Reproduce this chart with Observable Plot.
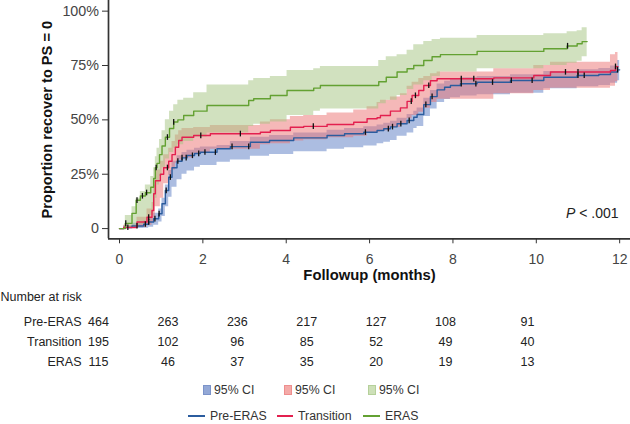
<!DOCTYPE html>
<html><head><meta charset="utf-8">
<script src="https://cdn.jsdelivr.net/npm/d3@7"></script>
<script src="https://cdn.jsdelivr.net/npm/@observablehq/plot@0.6"></script>
<style>
body{margin:0;background:#fff;font-family:"Liberation Sans",Arial,sans-serif;}
#wrap{position:relative;width:630px;height:424px;overflow:hidden;background:#fff}
#wrap svg{display:block}
.leg{position:absolute;height:14px;display:flex;align-items:center;font-size:12.3px;color:#333;white-space:nowrap}
.sw{display:inline-block;width:8px;height:10px;margin-right:3px;box-sizing:border-box;border:1px solid}
.ln{display:inline-block;height:2px;margin-right:5px}
</style></head><body><div id="wrap"></div>
<script>
// ---- data ----
const groups = ["Pre-ERAS", "Transition", "ERAS"];

const preTime = [0,0.1,0.3,0.58,0.7,0.82,0.94,1.02,1.1,1.18,1.26,1.38,1.5,1.62,1.8,1.94,2.34,2.66,3.14,3.6,4.18,4.98,5.4,5.86,6.18,6.34,6.5,6.66,6.9,7.06,7.14,7.3,7.46,7.62,7.8,7.94,8.18,8.58,9.38,10.18,10.98,11.5,11.78,11.95,12.0];
const preEst  = [0,0.005,0.012,0.02,0.03,0.045,0.068,0.114,0.175,0.236,0.28,0.31,0.325,0.336,0.345,0.351,0.367,0.377,0.397,0.405,0.417,0.428,0.436,0.443,0.451,0.459,0.468,0.482,0.497,0.512,0.525,0.57,0.607,0.638,0.65,0.658,0.666,0.673,0.681,0.696,0.704,0.709,0.72,0.73,0.73];
const preLow  = [0,0,0,0.002,0.006,0.015,0.03,0.055,0.1,0.144,0.19,0.225,0.25,0.265,0.282,0.29,0.305,0.315,0.333,0.341,0.353,0.365,0.372,0.38,0.39,0.397,0.405,0.425,0.44,0.46,0.47,0.515,0.55,0.58,0.594,0.602,0.61,0.616,0.622,0.643,0.652,0.658,0.668,0.68,0.68];
const preHigh = [0,0.012,0.025,0.035,0.05,0.07,0.09,0.14,0.2,0.267,0.31,0.335,0.35,0.36,0.37,0.375,0.382,0.4,0.42,0.428,0.44,0.452,0.46,0.468,0.476,0.484,0.494,0.508,0.525,0.54,0.555,0.6,0.635,0.665,0.678,0.686,0.694,0.7,0.708,0.722,0.73,0.736,0.748,0.773,0.773];
const preCensor = [0.2,0.42,0.62,0.7,0.85,0.95,1.12,1.22,1.4,1.5,1.6,1.75,1.9,2.05,2.3,2.7,3.1,5.9,6.45,6.55,6.75,6.95,7.35,7.5,8.2,8.55,8.95,9.4,9.9,11.0,11.15,11.95];

const traTime = [0,0.1,0.42,0.66,0.78,0.82,0.86,0.98,1.06,1.18,1.26,1.34,1.42,1.5,1.78,2.18,3.38,3.62,4.1,4.42,4.98,5.62,5.94,6.18,6.26,6.5,6.74,6.9,7.02,7.18,7.3,7.46,7.62,8.98,9.94,10.34,11.78,11.9,11.96];
const traEst  = [0,0.005,0.03,0.052,0.083,0.16,0.22,0.25,0.28,0.31,0.34,0.374,0.405,0.42,0.428,0.436,0.443,0.451,0.466,0.47,0.479,0.489,0.505,0.51,0.52,0.54,0.555,0.585,0.612,0.635,0.658,0.68,0.689,0.693,0.704,0.72,0.727,0.745,0.745];
const traLow  = [0,0,0.005,0.015,0.03,0.05,0.1,0.14,0.206,0.245,0.27,0.3,0.315,0.325,0.345,0.365,0.385,0.39,0.403,0.408,0.418,0.425,0.438,0.443,0.45,0.465,0.482,0.505,0.52,0.535,0.553,0.58,0.595,0.62,0.635,0.645,0.655,0.675,0.675];
const traHigh = [0,0.015,0.052,0.09,0.12,0.2,0.27,0.31,0.34,0.37,0.4,0.43,0.45,0.46,0.465,0.474,0.49,0.5,0.515,0.52,0.532,0.545,0.56,0.58,0.59,0.605,0.62,0.655,0.673,0.69,0.7,0.712,0.72,0.735,0.75,0.765,0.8,0.81,0.81];
const traCensor = [0.7,1.15,1.95,2.9,4.65,7.0,7.1,7.42,8.2,8.5,10.7,11.0,11.9];

const erTime = [0,0.14,0.3,0.4,0.5,0.62,0.75,0.82,0.86,0.9,0.96,1.02,1.1,1.2,1.3,1.4,1.54,1.78,2.1,3.1,3.22,3.62,4.02,4.66,4.82,6.22,6.4,6.66,6.9,7.06,7.3,7.5,7.7,8.58,10.18,10.74,10.98,11.1,11.22];
const erEst  = [0,0.024,0.07,0.13,0.15,0.165,0.19,0.23,0.28,0.3,0.34,0.38,0.42,0.46,0.49,0.5,0.52,0.54,0.566,0.589,0.597,0.612,0.635,0.646,0.658,0.675,0.696,0.72,0.735,0.75,0.773,0.79,0.8,0.815,0.827,0.84,0.85,0.86,0.86];
const erLow  = [0,0,0,0.01,0.02,0.035,0.06,0.1,0.14,0.2,0.24,0.28,0.32,0.35,0.37,0.385,0.4,0.42,0.44,0.47,0.48,0.49,0.52,0.54,0.55,0.574,0.59,0.612,0.64,0.66,0.68,0.7,0.72,0.735,0.75,0.76,0.77,0.79,0.79];
const erHigh = [0,0.06,0.1,0.14,0.17,0.2,0.24,0.28,0.33,0.37,0.41,0.45,0.5,0.54,0.57,0.59,0.6,0.625,0.66,0.68,0.69,0.7,0.727,0.735,0.745,0.773,0.79,0.8,0.82,0.845,0.86,0.87,0.875,0.888,0.896,0.905,0.91,0.924,0.924];
const erCensor = [0.15,0.42,0.55,0.65,0.88,1.15,1.3,10.75];

const riskTimes = [0,2,4,6,8,10,12];
const riskPre   = [464,263,236,217,127,108,91];
const riskTrans = [195,102,96,85,52,49,40];
const riskEras  = [115,46,37,35,20,19,13];

const xTicks = [0,2,4,6,8,10,12];
const yTicks = [0,0.25,0.5,0.75,1];

// ---- styling ----
const lineColor = {"Pre-ERAS":"#2b5c9e","Transition":"#e3204f","ERAS":"#63a132"};
const bandColor = {"Pre-ERAS":"#5a7cc4","Transition":"#ec7272","ERAS":"#a3c47f"};
const xDomain = [-0.264, 12.26];
const yDomain = [-0.047, 1.049];

function build(group, t, est, lo, hi) {
  return t.map((d, i) => ({group, t: d, est: est[i], lo: lo[i], hi: hi[i]}));
}
function stepAt(times, vals, x) {
  let i = 0;
  while (i + 1 < times.length && times[i + 1] <= x) i++;
  return vals[i];
}
function censor(group, times, est, cs) {
  return cs.map(c => ({group, t: c, est: stepAt(times, est, c)}));
}
const series = [
  {g: "Pre-ERAS", rows: build("Pre-ERAS", preTime, preEst, preLow, preHigh), cens: censor("Pre-ERAS", preTime, preEst, preCensor)},
  {g: "Transition", rows: build("Transition", traTime, traEst, traLow, traHigh), cens: censor("Transition", traTime, traEst, traCensor)},
  {g: "ERAS", rows: build("ERAS", erTime, erEst, erLow, erHigh), cens: censor("ERAS", erTime, erEst, erCensor)}
];

const marks = [];
for (const s of series) marks.push(Plot.areaY(s.rows, {x: "t", y1: "lo", y2: "hi", fill: bandColor[s.g], fillOpacity: 0.5, curve: "step-after"}));
for (const s of series) marks.push(Plot.line(s.rows, {x: "t", y: "est", stroke: lineColor[s.g], strokeWidth: 1.4, curve: "step-after"}));
for (const s of series) marks.push(Plot.link(s.cens, {x1: "t", x2: "t", y1: d => d.est - 0.012, y2: d => d.est + 0.014, stroke: "#111", strokeWidth: 1.3}));
marks.push(
  Plot.ruleX([xDomain[0]], {stroke: "#333", strokeWidth: 1.7}),
  Plot.ruleY([yDomain[0]], {stroke: "#333", strokeWidth: 1.7}),
  Plot.axisX({ticks: xTicks, tickSize: 5, tickPadding: 10, stroke: "#333", fill: "#444", fontSize: 14, label: null}),
  Plot.axisY({ticks: yTicks, tickSize: 6, tickPadding: 3.5, stroke: "#333", fill: "#444", fontSize: 14.3, label: null,
    tickFormat: d => d === 0 ? "0" : Math.round(d * 100) + "%"}),
  Plot.text(["Followup (months)"], {frameAnchor: "bottom", dy: 36.5, lineAnchor: "middle", fontWeight: "bold", fontSize: 14.8, fill: "#111"}),
  Plot.text(["Proportion recover to PS = 0"], {frameAnchor: "left", dx: -61.5, rotate: -90, textAnchor: "middle", lineAnchor: "middle", fontWeight: "bold", fontSize: 14.6, fill: "#111"}),
  Plot.text(["P < .001"], {frameAnchor: "bottom-right", dx: -12, dy: -25, textAnchor: "end", lineAnchor: "middle", fontSize: 14, fill: "#222", className: "pval"})
);

const chart = Plot.plot({
  width: 630, height: 286,
  marginLeft: 108, marginRight: 0, marginTop: 0, marginBottom: 47.7,
  style: {fontFamily: "Liberation Sans, Arial, sans-serif", background: "#fff", overflow: "visible"},
  x: {domain: xDomain},
  y: {domain: yDomain},
  marks
});
document.getElementById("wrap").appendChild(chart);
d3.select(chart).selectAll("g.pval text").each(function () {
  const t = d3.select(this);
  t.text(null);
  t.append("tspan").attr("font-style", "italic").text("P");
  t.append("tspan").text(" < .001");
});

// ---- number at risk table ----
const riskRows = [];
riskTimes.forEach((t, i) => {
  riskRows.push({group: "Pre-ERAS", t, n: riskPre[i]});
  riskRows.push({group: "Transition", t, n: riskTrans[i]});
  riskRows.push({group: "ERAS", t, n: riskEras[i]});
});
const table = Plot.plot({
  width: 630, height: 86,
  marginLeft: 0, marginRight: 0, marginTop: 0, marginBottom: 0,
  style: {fontFamily: "Liberation Sans, Arial, sans-serif", background: "#fff", overflow: "visible"},
  x: {type: "linear", domain: [0, 10, 12], range: [98, 445, 527], axis: null},
  y: {type: "point", domain: groups, range: [34, 75.7], padding: 0, axis: null},
  marks: [
    Plot.text(riskRows, {x: "t", y: "group", text: d => String(d.n), fontSize: 12.5, fill: "#222"}),
    Plot.text(groups, {y: d => d, text: d => d, frameAnchor: "left", dx: 81, textAnchor: "end", fontSize: 12.5, fill: "#222"}),
    Plot.text(["Number at risk"], {frameAnchor: "top-left", dy: 10.7, textAnchor: "start", lineAnchor: "middle", fontSize: 12.5, fill: "#222"})
  ]
});
document.getElementById("wrap").appendChild(table);

// ---- legend ----
const wrap = document.getElementById("wrap");
const swatch = [
  {g: "Pre-ERAS", left: 203, fill: "#93a8d6", border: "#7b93c9"},
  {g: "Transition", left: 284, fill: "#f4aaa8", border: "#ee8e8e"},
  {g: "ERAS", left: 368, fill: "#cde0b8", border: "#b5d09a"}
];
for (const s of swatch) {
  const d = document.createElement("div");
  d.className = "leg"; d.style.left = s.left + "px"; d.style.top = "383px";
  d.innerHTML = `<span class="sw" style="background:${s.fill};border-color:${s.border}"></span>95% CI`;
  wrap.appendChild(d);
}
const lines = [
  {g: "Pre-ERAS", left: 188, w: 17},
  {g: "Transition", left: 277, w: 16},
  {g: "ERAS", left: 363, w: 17}
];
for (const s of lines) {
  const d = document.createElement("div");
  d.className = "leg"; d.style.left = s.left + "px"; d.style.top = "409px";
  d.innerHTML = `<span class="ln" style="width:${s.w}px;background:${lineColor[s.g]}"></span>${s.g}`;
  wrap.appendChild(d);
}
</script></body></html>
